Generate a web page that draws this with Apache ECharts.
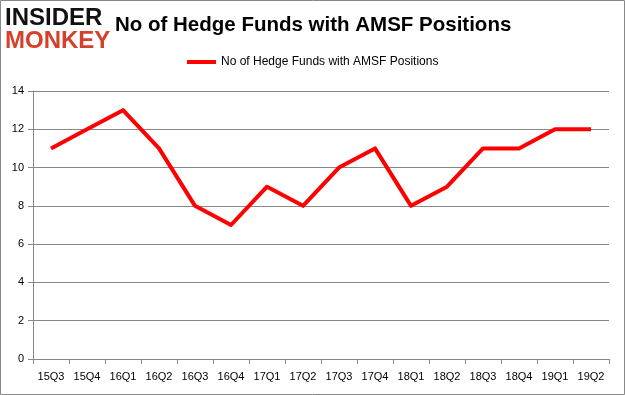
<!DOCTYPE html>
<html><head><meta charset="utf-8">
<script src="https://cdn.jsdelivr.net/npm/echarts@6/dist/echarts.min.js"></script>
<style>html,body{margin:0;padding:0;background:#fff}#c{width:625px;height:395px}</style>
</head><body><div id="c"></div>
<script>
var categories = ['15Q3','15Q4','16Q1','16Q2','16Q3','16Q4','17Q1','17Q2','17Q3','17Q4','18Q1','18Q2','18Q3','18Q4','19Q1','19Q2'];
var hedgeFunds = [11,12,13,11,8,7,9,8,10,11,8,9,11,11,12,12];
var seriesName = 'No of Hedge Funds with AMSF Positions';
var titleText = 'No of Hedge Funds with AMSF Positions';

var chart = echarts.init(document.getElementById('c'), null, {renderer:'canvas'});
chart.setOption({
  animation:false,
  backgroundColor:'#fff',
  title:{text:titleText,left:115,top:15,padding:0,
    textStyle:{fontFamily:'Liberation Sans',fontWeight:'bold',fontSize:20.5,color:'#000'}},
  legend:{data:[seriesName],top:56,left:187,padding:0,itemWidth:29,itemHeight:4,itemGap:5,
    icon:'rect',
    textStyle:{fontFamily:'Liberation Sans',fontSize:12,color:'#000'}},
  graphic:[
    {type:'rect',shape:{x:0.5,y:0.5,width:624,height:394},style:{fill:'none',stroke:'#888',lineWidth:1},silent:true},
    {type:'text',left:5,top:6,style:{text:'INSIDER',fontFamily:'Liberation Sans',fontWeight:900,fontSize:24,fill:'#111'}},
    {type:'text',left:5,top:29,style:{text:'MONKEY',fontFamily:'Liberation Sans',fontWeight:900,fontSize:24,fill:'#d4402b'}}
  ],
  grid:{left:33,right:16,top:91,bottom:36,containLabel:false},
  xAxis:{type:'category',data:categories,boundaryGap:true,
    axisLine:{lineStyle:{color:'#888',width:1}},
    axisTick:{show:true,length:5,lineStyle:{color:'#888'}},
    axisLabel:{fontFamily:'Liberation Sans',fontSize:11,color:'#000',margin:12,interval:0}},
  yAxis:{type:'value',min:0,max:14,interval:2,
    axisLine:{show:true,lineStyle:{color:'#888',width:1}},
    axisTick:{show:true,length:5,lineStyle:{color:'#888'}},
    splitLine:{lineStyle:{color:'#888',width:1}},
    axisLabel:{fontFamily:'Liberation Sans',fontSize:11,color:'#000',margin:9}},
  series:[{name:seriesName,type:'line',data:hedgeFunds,showSymbol:false,symbol:'none',
    lineStyle:{color:'#ff0000',width:4,join:'round'},itemStyle:{color:'#ff0000'}}]
});
</script></body></html>
